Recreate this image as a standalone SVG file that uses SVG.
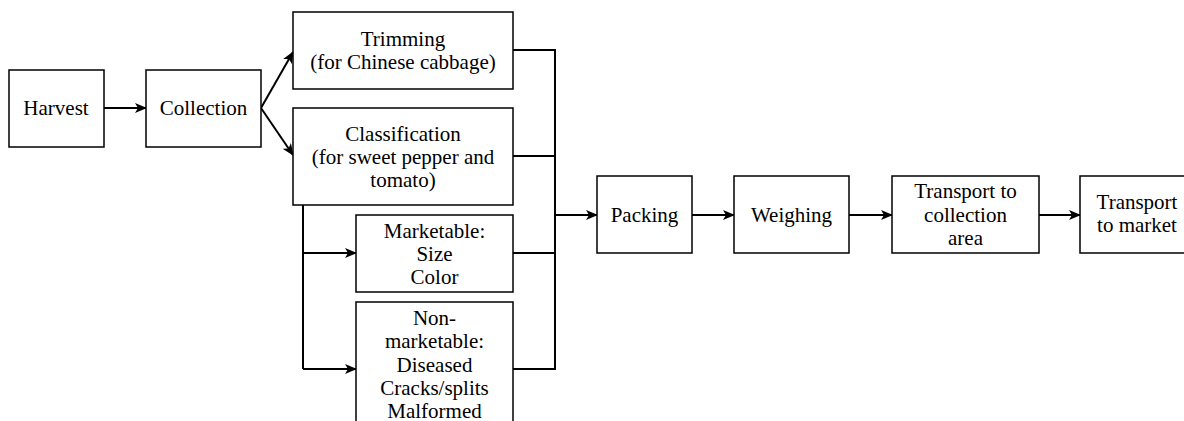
<svg xmlns="http://www.w3.org/2000/svg" width="1184" height="421" viewBox="0 0 1184 421">
  <style>
    .box { fill: #ffffff; stroke: #000000; stroke-width: 1.5; }
    .lbl { font-family: 'Liberation Serif', 'Times New Roman', serif; font-size: 21px; fill: #000000; text-anchor: middle; }
    .wire { fill: none; stroke: #000000; stroke-width: 2; }
    .arr { fill: none; stroke: #000000; stroke-width: 2; marker-end: url(#head); }
  </style>
  <defs>
    <marker id="head" viewBox="0 0 12 10" refX="11" refY="5" markerWidth="12" markerHeight="10" markerUnits="userSpaceOnUse" orient="auto">
      <path d="M0,0 L12,5 L0,10 L3,5 z" fill="#000000"/>
    </marker>
  </defs>
  <rect width="1184" height="421" fill="#ffffff"/>

  <!-- connectors -->
  <g id="connectors">
    <line class="arr" x1="104" y1="108" x2="146" y2="108"/>
    <line class="arr" x1="261" y1="108" x2="293" y2="52"/>
    <line class="arr" x1="261" y1="108" x2="293" y2="155"/>
    <!-- classification split -->
    <line class="wire" x1="303" y1="205" x2="303" y2="369"/>
    <line class="arr" x1="303" y1="253" x2="356" y2="253"/>
    <line class="arr" x1="303" y1="369" x2="356" y2="369"/>
    <!-- merge bus into packing -->
    <line class="wire" x1="513" y1="50" x2="555" y2="50"/>
    <line class="wire" x1="513" y1="156" x2="555" y2="156"/>
    <line class="wire" x1="513" y1="253" x2="555" y2="253"/>
    <line class="wire" x1="513" y1="369" x2="555" y2="369"/>
    <line class="wire" x1="555" y1="49" x2="555" y2="370"/>
    <line class="arr" x1="555" y1="215" x2="597" y2="215"/>
    <!-- main chain -->
    <line class="arr" x1="692" y1="215" x2="734" y2="215"/>
    <line class="arr" x1="849" y1="215" x2="892" y2="215"/>
    <line class="arr" x1="1039" y1="215" x2="1080" y2="215"/>
  </g>

  <g id="harvest">
    <rect class="box" x="9" y="70" width="95" height="77"/>
    <text class="lbl" x="56" y="115">Harvest</text>
  </g>
  <g id="collection">
    <rect class="box" x="146" y="70" width="115" height="77"/>
    <text class="lbl" x="203.5" y="115">Collection</text>
  </g>
  <g id="trimming">
    <rect class="box" x="293" y="12" width="220" height="77"/>
    <text class="lbl" x="403" y="46">Trimming</text>
    <text class="lbl" x="403" y="69">(for Chinese cabbage)</text>
  </g>
  <g id="classification">
    <rect class="box" x="293" y="108" width="220" height="97"/>
    <text class="lbl" x="403" y="141">Classification</text>
    <text class="lbl" x="403" y="164">(for sweet pepper and</text>
    <text class="lbl" x="403" y="187">tomato)</text>
  </g>
  <g id="marketable">
    <rect class="box" x="356" y="215" width="157" height="77"/>
    <text class="lbl" x="434.5" y="238">Marketable:</text>
    <text class="lbl" x="434.5" y="261">Size</text>
    <text class="lbl" x="434.5" y="284">Color</text>
  </g>
  <g id="non-marketable">
    <rect class="box" x="356" y="302" width="157" height="140"/>
    <text class="lbl" x="434.5" y="325">Non-</text>
    <text class="lbl" x="434.5" y="348">marketable:</text>
    <text class="lbl" x="434.5" y="372">Diseased</text>
    <text class="lbl" x="434.5" y="395">Cracks/splits</text>
    <text class="lbl" x="434.5" y="418">Malformed</text>
  </g>
  <g id="packing">
    <rect class="box" x="597" y="176" width="95" height="77"/>
    <text class="lbl" x="644.5" y="222">Packing</text>
  </g>
  <g id="weighing">
    <rect class="box" x="734" y="176" width="115" height="77"/>
    <text class="lbl" x="791.5" y="222">Weighing</text>
  </g>
  <g id="transport-collection">
    <rect class="box" x="892" y="176" width="147" height="77"/>
    <text class="lbl" x="965.5" y="198">Transport to</text>
    <text class="lbl" x="965.5" y="222">collection</text>
    <text class="lbl" x="965.5" y="245">area</text>
  </g>
  <g id="transport-market">
    <rect class="box" x="1080" y="176" width="114" height="77"/>
    <text class="lbl" x="1137" y="209">Transport</text>
    <text class="lbl" x="1137" y="232">to market</text>
  </g>
</svg>
